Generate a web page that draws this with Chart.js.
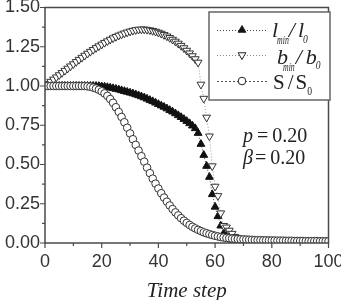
<!DOCTYPE html>
<html><head><meta charset="utf-8">
<script src="https://cdn.jsdelivr.net/npm/chart.js@4/dist/chart.umd.min.js"></script>
<style>html,body{margin:0;padding:0;background:#fff;}#wrap{width:341px;height:300px;position:relative}</style>
</head><body><div id="wrap"><canvas id="c" width="341" height="300"></canvas></div>
<script>
// Time steps 0..100
const timeSteps = Array.from({length: 101}, (_, i) => i);

// l_min / l_0 (filled up triangles)
const lRatio = [
1,1,1,1,1,1,1,1,1,1, 1,1,1,1,1,1,1,1,1,0.999,
0.997,0.995,0.992,0.989,0.985,0.981,0.977,0.972,0.967,0.962,
0.957,0.952,0.946,0.94,0.933,0.926,0.918,0.91,0.902,0.893,
0.884,0.875,0.866,0.856,0.846,0.836,0.825,0.813,0.801,0.789,
0.776,0.762,0.747,0.73,0.70,0.63,0.56,0.49,0.42,0.31,
0.23,0.17,0.11,0.06,0.04,0.03,0.02,0.01,0.01,0.005,
0.004,0.004,0.004,0.004,0.004,0.004,0.004,0.004,0.004,0.004,
0.004,0.004,0.004,0.004,0.004,0.004,0.004,0.004,0.004,0.004,
0.004,0.004,0.004,0.004,0.004,0.004,0.004,0.004,0.004,0.004,0.004
];

// b_min / b_0 (open down triangles)
const bRatio = [
1.0,1.014,1.028,1.042,1.056,1.07,1.084,1.098,1.112,1.126,
1.14,1.154,1.168,1.181,1.194,1.207,1.219,1.231,1.243,1.254,
1.265,1.276,1.286,1.296,1.305,1.314,1.322,1.329,1.336,1.342,
1.348,1.353,1.357,1.36,1.361,1.361,1.359,1.356,1.352,1.347,
1.341,1.334,1.326,1.317,1.307,1.296,1.284,1.271,1.257,1.242,
1.226,1.209,1.191,1.172,1.15,1.01,0.92,0.80,0.68,0.49,
0.36,0.30,0.19,0.11,0.10,0.08,0.06,0.04,0.03,0.02,
0.015,0.012,0.01,0.01,0.01,0.01,0.01,0.01,0.01,0.01,
0.01,0.01,0.01,0.01,0.01,0.01,0.01,0.01,0.01,0.01,
0.01,0.01,0.01,0.01,0.01,0.01,0.01,0.01,0.01,0.01,0.01
];

// S / S_0 (open circles)
const sRatio = [
1,1,1,1,1,1,1,1,1,1, 1,1,1,1,1,0.998,0.995,0.99,0.984,0.976,
0.966,0.953,0.937,0.917,0.893,0.865,0.835,0.803,0.769,0.734,
0.698,0.661,0.625,0.589,0.553,0.518,0.48,0.445,0.41,0.378,
0.347,0.317,0.289,0.263,0.239,0.216,0.195,0.176,0.158,0.142,
0.128,0.115,0.103,0.093,0.084,0.076,0.068,0.062,0.056,0.051,
0.046,0.042,0.038,0.035,0.032,0.03,0.028,0.026,0.025,0.024,
0.023,0.022,0.021,0.02,0.019,0.018,0.018,0.017,0.017,0.016,
0.016,0.016,0.015,0.015,0.015,0.014,0.014,0.014,0.013,0.013,
0.013,0.013,0.012,0.012,0.012,0.012,0.012,0.011,0.011,0.011,0.011
];

const xMajorTicks = [0, 20, 40, 60, 80, 100];
const xMinorTicks = [10, 30, 50, 70, 90];
const yMajorTicks = [0, 0.25, 0.5, 0.75, 1.0, 1.25, 1.5];
const yMinorTicks = [0.125, 0.375, 0.625, 0.875, 1.125, 1.375];
const xTitle = 'Time step';

const pts = arr => timeSteps.map((t, i) => ({x: t, y: arr[i]}));

const SERIF = '"Liberation Serif", "Times New Roman", serif';
const SANS = '"Liberation Sans", Arial, sans-serif';

function drawRuns(ctx, x, baseline, runs) {
  let cx = x;
  for (const r of runs) {
    ctx.font = r.font;
    const sx = r.sx || 1;
    const w = ctx.measureText(r.t).width * sx;
    cx += (r.dx || 0);
    ctx.save();
    ctx.translate(cx, baseline + (r.dy || 0));
    ctx.scale(sx, 1);
    ctx.fillText(r.t, 0, 0);
    ctx.restore();
    cx += w + (r.after || 0);
  }
}

const decor = {
  id: 'decor',
  afterDatasetsDraw(chart) {
    const {ctx, chartArea: a, scales: {x, y}} = chart;
    ctx.save();
    ctx.strokeStyle = '#4a4a4a';
    ctx.lineWidth = 1.5;
    ctx.strokeRect(a.left, a.top, a.right - a.left, a.bottom - a.top);
    ctx.lineWidth = 1.2;
    ctx.beginPath();
    xMajorTicks.forEach(v => { const p = x.getPixelForValue(v); ctx.moveTo(p, a.bottom); ctx.lineTo(p, a.bottom + 5); });
    xMinorTicks.forEach(v => { const p = x.getPixelForValue(v); ctx.moveTo(p, a.bottom); ctx.lineTo(p, a.bottom + 3); });
    yMajorTicks.forEach(v => { const p = y.getPixelForValue(v); ctx.moveTo(a.left, p); ctx.lineTo(a.left - 5, p); });
    yMinorTicks.forEach(v => { const p = y.getPixelForValue(v); ctx.moveTo(a.left, p); ctx.lineTo(a.left - 3, p); });
    ctx.stroke();
    ctx.restore();
  },
  afterDraw(chart) {
    const {ctx, chartArea: a} = chart;
    ctx.save();
    ctx.fillStyle = '#222';
    ctx.font = 'italic 21px ' + SERIF;
    ctx.textAlign = 'center';
    ctx.textBaseline = 'alphabetic';
    ctx.fillText(xTitle, (a.left + a.right) / 2, 297);
    ctx.textAlign = 'left';

    // legend box
    const lx = 209, ly = 12, lw = 121, lh = 88;
    ctx.fillStyle = '#fff';
    ctx.fillRect(lx, ly, lw, lh);
    ctx.strokeStyle = '#666';
    ctx.lineWidth = 1.5;
    ctx.strokeRect(lx, ly, lw, lh);

    const rows = [
      {y: 30, dash: [1, 2], color: '#444', style: 'triangle', rot: 0, fill: '#111', r: 4.5},
      {y: 55, dash: [1, 2], color: '#888', style: 'triangle', rot: 180, fill: '#fff', r: 4.5},
      {y: 81, dash: [2, 2], color: '#555', style: 'circle', rot: 0, fill: '#fff', r: 3.8}
    ];
    rows.forEach(r => {
      ctx.save();
      ctx.strokeStyle = r.color; ctx.lineWidth = 1; ctx.setLineDash(r.dash);
      ctx.beginPath(); ctx.moveTo(217, r.y + 0.5); ctx.lineTo(267, r.y + 0.5); ctx.stroke();
      ctx.restore();
      ctx.save();
      ctx.fillStyle = r.fill; ctx.strokeStyle = '#222'; ctx.lineWidth = 1;
      Chart.helpers.drawPoint(ctx, {pointStyle: r.style, radius: r.r, rotation: r.rot, borderWidth: 1}, 242, r.y);
      ctx.restore();
    });

    ctx.fillStyle = '#222';
    const big = 'italic 22px ' + SERIF, sub = 'italic 12px ' + SERIF;
    drawRuns(ctx, 272, 37, [
      {t: 'l', font: big, after: -1},
      {t: 'min', font: sub, dy: 7, sx: 0.65, after: 0},
      {t: '/', font: big, after: 3},
      {t: 'l', font: big, after: -1},
      {t: '0', font: sub, dy: 6, sx: 0.8}
    ]);
    drawRuns(ctx, 277, 64, [
      {t: 'b', font: big, after: -5},
      {t: 'min', font: sub, dy: 7, sx: 0.65, after: 1},
      {t: '/', font: big, after: 4},
      {t: 'b', font: big, after: -1},
      {t: '0', font: sub, dy: 5, sx: 0.8}
    ]);
    const up = '21px ' + SERIF, upSub = '12px ' + SERIF;
    drawRuns(ctx, 273, 89, [
      {t: 'S', font: up, after: 3},
      {t: '/', font: up, after: 2},
      {t: 'S', font: up, after: 0},
      {t: '0', font: upSub, dy: 6, sx: 0.8}
    ]);

    // annotations
    const ann = '20px ' + SERIF, annI = 'italic 20px ' + SERIF;
    drawRuns(ctx, 243, 142, [
      {t: 'p', font: annI, after: 4},
      {t: '=', font: ann, after: 4},
      {t: '0.20', font: ann}
    ]);
    drawRuns(ctx, 243, 164, [
      {t: 'β', font: annI, after: 2},
      {t: '=', font: ann, after: 4},
      {t: '0.20', font: ann}
    ]);
    ctx.restore();
  }
};

new Chart(document.getElementById('c'), {
  type: 'line',
  data: {
    datasets: [
      {label: 'S/S0', data: pts(sRatio), order: 0, borderColor: '#666', borderWidth: 1, borderDash: [2, 2],
       pointStyle: 'circle', pointRadius: 3.8, pointBorderWidth: 1, pointBorderColor: '#333', pointBackgroundColor: '#fff'},
      {label: 'b_min/b_0', data: pts(bRatio), order: 1, borderColor: '#999', borderWidth: 1, borderDash: [1, 2],
       pointStyle: 'triangle', pointRotation: 180, pointRadius: 4.5, pointBorderWidth: 1, pointBorderColor: '#333', pointBackgroundColor: '#fff'},
      {label: 'l_min/l_0', data: pts(lRatio), order: 2, borderColor: '#444', borderWidth: 1, borderDash: [1, 2],
       pointStyle: 'triangle', pointRadius: 4.5, pointBorderWidth: 1, pointBorderColor: '#111', pointBackgroundColor: '#111'}
    ]
  },
  options: {
    responsive: false,
    animation: false,
    events: [],
    plugins: {legend: {display: false}, tooltip: {enabled: false}},
    layout: {padding: 0},
    scales: {
      x: {
        type: 'linear', min: 0, max: 100,
        ticks: {stepSize: 20, color: '#333', font: {family: SANS, size: 18}, padding: 8, maxRotation: 0},
        grid: {display: false, drawTicks: false}, border: {display: false},
        afterFit(s) { s.height = 57; s.paddingLeft = 0; s.paddingRight = 12.5; }
      },
      y: {
        min: 0, max: 1.5,
        ticks: {stepSize: 0.25, color: '#333', font: {family: SANS, size: 18}, padding: 5,
                callback: v => v.toFixed(2)},
        grid: {display: false, drawTicks: false}, border: {display: false},
        afterFit(s) { s.width = 45; s.paddingTop = 7.5; s.paddingBottom = 0; }
      }
    }
  },
  plugins: [decor]
});
</script>
</body></html>
